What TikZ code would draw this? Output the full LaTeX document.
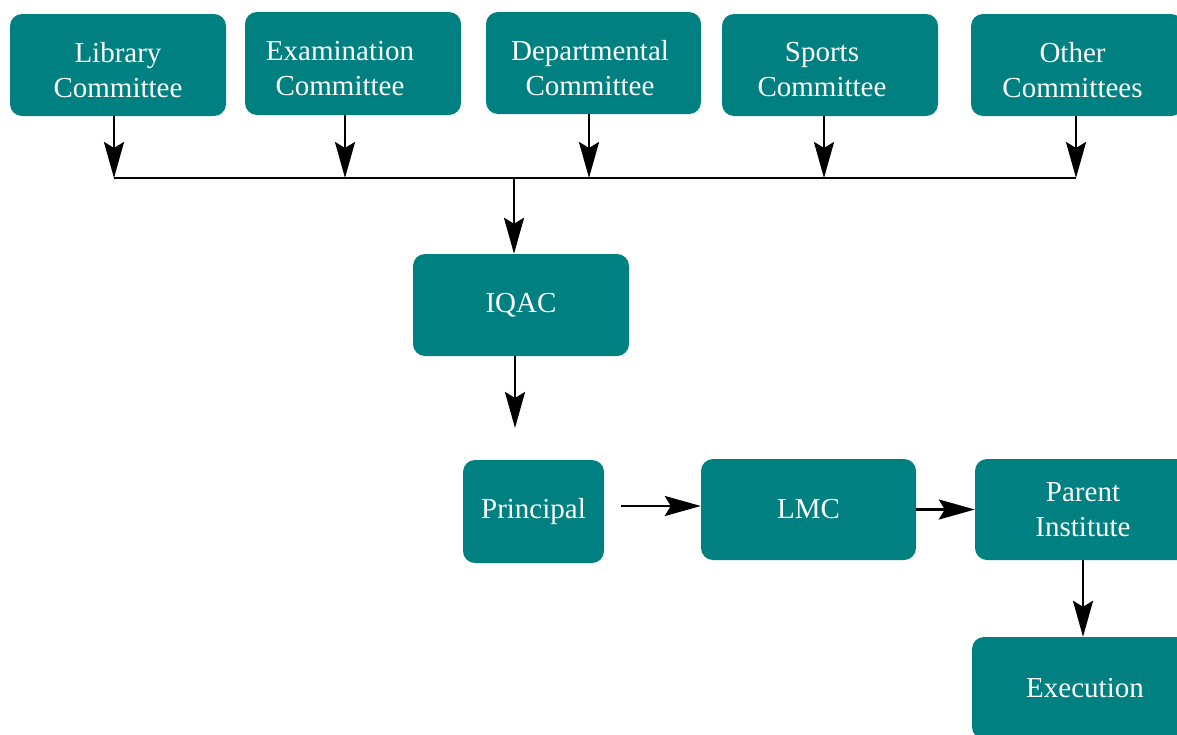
\documentclass[tikz,border=0pt]{standalone}
\usepackage{fontspec}
\setmainfont{Liberation Serif}
\usetikzlibrary{arrows.meta}
\definecolor{boxteal}{RGB}{0,128,128}
\tikzset{
  box/.style={fill=boxteal, rounded corners=12pt, text=white, align=center,
    font=\fontsize{29}{35}\selectfont, inner sep=0pt},
  toptext/.style={text=white, align=center, font=\fontsize{29}{35}\selectfont,
    inner sep=0pt, yshift=-5pt},
  arr/.style={line width=2.8pt, -{Stealth[length=36pt,width=20pt,inset=6pt]}},
  bus/.style={line width=2.8pt}
}
\begin{document}
\begin{tikzpicture}[x=1pt,y=-1pt]
\useasboundingbox (0,0) rectangle (1177,734);
\clip (0,0) rectangle (1177,734);
\fill[white] (0,0) rectangle (1177,734);
% top committees
\node[box, minimum width=216pt, minimum height=102pt,
  label={[toptext]center:{Library\\Committee}}] (lib) at (118,65) {};
\node[box, minimum width=216pt, minimum height=103pt,
  label={[toptext,xshift=-13pt]center:{Examination\\Committee}}] (exam) at (353,63.5) {};
\node[box, minimum width=215pt, minimum height=102pt,
  label={[toptext,xshift=-3.5pt]center:{Departmental\\Committee}}] (dept) at (593.5,63) {};
\node[box, minimum width=216pt, minimum height=102pt,
  label={[toptext,xshift=-8pt]center:{Sports\\Committee}}] (sports) at (830,65) {};
\node[box, minimum width=212pt, minimum height=102pt,
  label={[toptext,xshift=-4.5pt]center:{Other\\Committees}}] (other) at (1077,65) {};
% middle
\node[box, minimum width=216pt, minimum height=102pt] (iqac) at (521,305) {IQAC};
\node[box, minimum width=141pt, minimum height=103pt] (principal) at (533.5,511.5) {Principal};
\node[box, minimum width=215pt, minimum height=101pt] (lmc) at (808.5,509.5) {LMC};
\node[box, minimum width=216pt, minimum height=101pt] (parent) at (1083,509.5) {Parent\\Institute};
\node[box, minimum width=226pt, minimum height=102pt] (exec) at (1085,688) {Execution};
% bus coordinates
\coordinate (b1) at (114,178);
\coordinate (b2) at (345,178);
\coordinate (b3) at (589,178);
\coordinate (b4) at (824,178);
\coordinate (b5) at (1076,178);
\coordinate (bq) at (514,178);
\coordinate (iqacend) at (515,428);
\coordinate (pstart) at (621,506);
% arrows from committees to bus
\draw[arr] (b1 |- lib.south) -- (b1);
\draw[arr] (b2 |- exam.south) -- (b2);
\draw[arr] (b3 |- dept.south) -- (b3);
\draw[arr] (b4 |- sports.south) -- (b4);
\draw[arr] (b5 |- other.south) -- (b5);
\draw[bus] (b1) -- (b5);
\draw[arr] (bq) -- (bq |- iqac.north);
\draw[arr] (iqacend |- iqac.south) -- (iqacend);
\draw[arr] (pstart) -- (pstart -| lmc.west);
\draw[arr] (lmc.east) -- (parent.west);
\draw[arr] (parent.south) -- (parent.south |- exec.north);
\end{tikzpicture}
\end{document}
